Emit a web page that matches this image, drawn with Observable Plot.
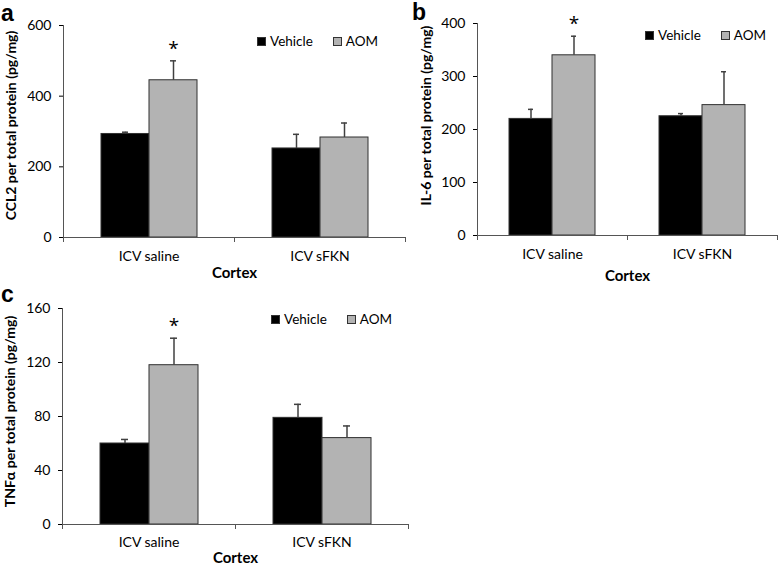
<!DOCTYPE html>
<html>
<head>
<meta charset="utf-8">
<script src="https://cdn.jsdelivr.net/npm/d3@7"></script>
<script src="https://cdn.jsdelivr.net/npm/@observablehq/plot@0.6"></script>
<style>
  html, body { margin: 0; padding: 0; background: #fff; }
  #fig { position: relative; width: 778px; height: 566px; overflow: hidden; font-family: Lato, "Open Sans", sans-serif; }
  .panel { position: absolute; }
  .letter { position: absolute; font-family: "Liberation Sans", Arial, sans-serif; font-weight: bold; font-size: 23px; line-height: 20px; color: #000; }
  .legend { position: absolute; display: flex; align-items: center; font-size: 13.5px; line-height: 14px; color: #000; white-space: nowrap; }
  .legend .item { display: flex; align-items: center; margin-right: 20px; }
  .legend .sw { width: 9px; height: 9px; box-sizing: border-box; border: 1px solid #333; margin-right: 4px; }
  svg [aria-label="y-axis label"] text { font-weight: bold; }
  svg [aria-label="fx-axis label"] text { font-weight: bold; font-size: 15px; }
</style>
</head>
<body>
<div id="fig"></div>
<script>
// ---------- data ----------
const groups = ["ICV saline", "ICV sFKN"];
const series = ["Vehicle", "AOM"];
const seriesColors = ["#000000", "#b3b3b3"];
const xTitle = "Cortex";
const panelLetters = ["a", "b", "c"];

// Panel a: CCL2
const ccl2Label = "CCL2 per total protein (pg/mg)";
const ccl2Ticks = [0, 200, 400, 600];
const ccl2Vehicle = [293, 252];
const ccl2VehicleErr = [5, 40];
const ccl2AOM = [445, 283];
const ccl2AOMErr = [55, 41];
const ccl2SigAOM = [true, false];

// Panel b: IL-6
const il6Label = "IL-6 per total protein (pg/mg)";
const il6Ticks = [0, 100, 200, 300, 400];
const il6Vehicle = [220, 225];
const il6VehicleErr = [18, 5];
const il6AOM = [340, 246];
const il6AOMErr = [36, 63];
const il6SigAOM = [true, false];

// Panel c: TNFα
const tnfLabel = "TNFα per total protein (pg/mg)";
const tnfTicks = [0, 40, 80, 120, 160];
const tnfVehicle = [60, 79];
const tnfVehicleErr = [3, 10];
const tnfAOM = [118, 64];
const tnfAOMErr = [20, 9];
const tnfSigAOM = [true, false];

// ---------- helpers ----------
function buildRows(veh, vehErr, aom, aomErr) {
  const out = [];
  groups.forEach((g, i) => {
    out.push({group: g, series: series[0], value: veh[i], err: vehErr[i]});
    out.push({group: g, series: series[1], value: aom[i], err: aomErr[i]});
  });
  return out;
}
function buildSig(rows, sigAOM) {
  return rows.filter(r => r.series === series[1] && sigAOM[groups.indexOf(r.group)]);
}

const axisColor = "#555555";
const errColor = "#404040";

function makePanel(cfg) {
  const L = cfg.layout;
  const frameH = L.height - L.marginTop - L.marginBottom;
  const rows = cfg.rows;
  const top = d => d.value + d.err;
  return Plot.plot({
    width: L.width,
    height: L.height,
    marginLeft: L.marginLeft,
    marginRight: L.marginRight,
    marginTop: L.marginTop,
    marginBottom: L.marginBottom,
    style: {fontFamily: 'Lato, "Open Sans", sans-serif', fontSize: "14px", color: "#000", background: "transparent", overflow: "visible"},
    fx: {domain: groups, padding: 0, axis: "bottom", tickSize: 0, tickPadding: L.fxPad, label: xTitle, labelAnchor: "center", labelOffset: L.xLabelOffset},
    x: {domain: series, axis: null, paddingInner: 0, paddingOuter: L.pad},
    y: {domain: [cfg.ticks[0], cfg.ticks[cfg.ticks.length - 1]], ticks: cfg.ticks, tickSize: 4, tickPadding: 8,
        label: cfg.label, labelAnchor: "center", labelOffset: L.yLabelOffset, labelArrow: "none"},
    color: {domain: series, range: seriesColors},
    marks: [
      Plot.barY(rows, {fx: "group", x: "series", y: "value", fill: "series", stroke: "#303030", strokeWidth: 1}),
      Plot.ruleX(rows, {fx: "group", x: "series", y1: "value", y2: top, stroke: errColor, strokeWidth: 1.5}),
      Plot.tickY(rows, {fx: "group", x: "series", y: top, stroke: errColor, strokeWidth: 1.5, insetLeft: L.capInset, insetRight: L.capInset}),
      Plot.text(cfg.sig, {fx: "group", x: "series", y: top, text: () => "*", dy: -12, fontSize: 19,
                          fontFamily: '"Open Sans", sans-serif', fill: "#000"}),
      Plot.ruleY([0], {stroke: axisColor, strokeWidth: 1}),
      Plot.frame({anchor: "left", facetAnchor: "left", stroke: axisColor, strokeOpacity: 1, insetBottom: -4}),
      Plot.frame({anchor: "right", stroke: axisColor, strokeOpacity: 1, insetTop: frameH, insetBottom: -4})
    ]
  });
}

// shift the rotated y label along the axis (pixels, negative = up)
function shiftYLabel(svg, shift) {
  const t = svg.querySelector('[aria-label="y-axis label"] text');
  if (!t) return;
  const tr = t.getAttribute("transform");
  if (!tr) return;
  const m = tr.match(/translate\(\s*([-\d.e]+)[ ,]+([-\d.e]+)\s*\)/);
  if (!m) return;
  const ny = parseFloat(m[2]) + shift;
  t.setAttribute("transform", tr.replace(m[0], `translate(${m[1]},${ny})`));
}

const panels = [
  {
    rows: buildRows(ccl2Vehicle, ccl2VehicleErr, ccl2AOM, ccl2AOMErr),
    sigAOM: ccl2SigAOM, label: ccl2Label, ticks: ccl2Ticks,
    layout: {left: 0, top: 0, width: 407, height: 285, marginLeft: 62, marginRight: 2, marginTop: 25, marginBottom: 48,
             pad: 0.75, capInset: 21, fxPad: 14, xLabelOffset: 40, yLabelOffset: 57, yLabelShift: -6},
    letter: {left: 1, top: 3},
    legend: {left: 257, top: 34}
  },
  {
    rows: buildRows(il6Vehicle, il6VehicleErr, il6AOM, il6AOMErr),
    sigAOM: il6SigAOM, label: il6Label, ticks: il6Ticks,
    layout: {left: 414, top: 0, width: 364, height: 283, marginLeft: 62, marginRight: 1, marginTop: 23, marginBottom: 48,
             pad: 0.71, capInset: 19, fxPad: 14, xLabelOffset: 45, yLabelOffset: 56, yLabelShift: -14},
    letter: {left: 412, top: 2},
    legend: {left: 645, top: 28}
  },
  {
    rows: buildRows(tnfVehicle, tnfVehicleErr, tnfAOM, tnfAOMErr),
    sigAOM: tnfSigAOM, label: tnfLabel, ticks: tnfTicks,
    layout: {left: 0, top: 280, width: 410, height: 286, marginLeft: 62, marginRight: 2, marginTop: 28, marginBottom: 42,
             pad: 0.75, capInset: 21, fxPad: 13, xLabelOffset: 38, yLabelOffset: 57, yLabelShift: -5},
    letter: {left: 1, top: 284},
    legend: {left: 271, top: 312}
  }
];

const fig = document.getElementById("fig");
panels.forEach((p, i) => {
  p.sig = buildSig(p.rows, p.sigAOM);
  const svg = makePanel(p);
  shiftYLabel(svg, p.layout.yLabelShift);
  svg.classList.add("panel");
  svg.style.left = p.layout.left + "px";
  svg.style.top = p.layout.top + "px";
  fig.appendChild(svg);

  const letter = document.createElement("div");
  letter.className = "letter";
  letter.textContent = panelLetters[i];
  letter.style.left = p.letter.left + "px";
  letter.style.top = p.letter.top + "px";
  fig.appendChild(letter);

  const legend = document.createElement("div");
  legend.className = "legend";
  legend.style.left = p.legend.left + "px";
  legend.style.top = p.legend.top + "px";
  series.forEach((s, j) => {
    const item = document.createElement("div");
    item.className = "item";
    const sw = document.createElement("div");
    sw.className = "sw";
    sw.style.background = seriesColors[j];
    const t = document.createElement("span");
    t.textContent = s;
    item.appendChild(sw);
    item.appendChild(t);
    legend.appendChild(item);
  });
  fig.appendChild(legend);
});
</script>
</body>
</html>
